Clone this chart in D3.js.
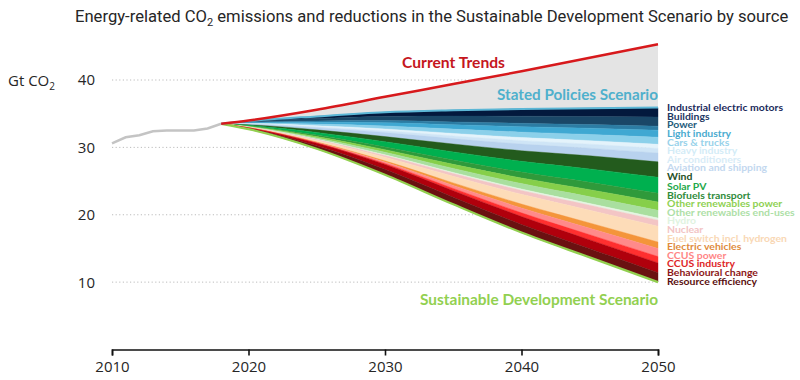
<!DOCTYPE html>
<html><head><meta charset="utf-8">
<script src="https://cdn.jsdelivr.net/npm/d3@7/dist/d3.min.js"></script>
<style>body{margin:0;background:#fff}svg{display:block}</style>
</head><body>
<svg id="c" width="800" height="380"></svg>
<script>
// ---------- data ----------
const histYears  = [2010, 2011, 2012, 2013, 2014, 2015, 2016, 2017, 2018];
const histValues = [30.6, 31.5, 31.8, 32.4, 32.5, 32.5, 32.5, 32.8, 33.5];

const projYears      = [2018, 2020, 2025, 2030, 2035, 2040, 2045, 2050];
const currentTrends  = [33.5, 34.0, 35.6, 37.5, 39.4, 41.3, 43.3, 45.3];
const statedPolicies = [33.5, 33.9, 34.6, 35.2, 35.5, 35.7, 35.8, 35.9];

const wedgeNames = [
  "Industrial electric motors", "Buildings", "Power", "Light industry", "Cars & trucks",
  "Heavy industry", "Air conditioners", "Aviation and shipping",
  "Wind", "Solar PV", "Biofuels transport", "Other renewables power",
  "Other renewables end-uses", "Hydro",
  "Nuclear", "Fuel switch incl. hydrogen", "Electric vehicles", "CCUS power",
  "CCUS industry", "Behavioural change", "Resource efficiency"
];
// reductions (Gt CO2) per wedge, at projYears
const wedgeReductions = [
  [0, 0.08, 0.32, 0.60, 0.85, 1.07, 1.22, 1.40],
  [0, 0.10, 0.36, 0.62, 0.87, 1.06, 1.20, 1.35],
  [0, 0.06, 0.20, 0.32, 0.42, 0.50, 0.54, 0.60],
  [0, 0.07, 0.26, 0.47, 0.65, 0.81, 0.92, 1.05],
  [0, 0.06, 0.24, 0.45, 0.64, 0.80, 0.92, 1.05],
  [0, 0.04, 0.15, 0.27, 0.37, 0.46, 0.52, 0.60],
  [0, 0.04, 0.15, 0.28, 0.40, 0.51, 0.60, 0.70],
  [0, 0.09, 0.32, 0.59, 0.80, 0.99, 1.13, 1.30],
  [0, 0.09, 0.38, 0.75, 1.17, 1.57, 1.95, 2.30],
  [0, 0.10, 0.40, 0.78, 1.20, 1.60, 1.98, 2.35],
  [0, 0.05, 0.21, 0.41, 0.65, 0.88, 1.10, 1.30],
  [0, 0.05, 0.20, 0.38, 0.60, 0.82, 1.04, 1.25],
  [0, 0.05, 0.20, 0.38, 0.60, 0.82, 1.01, 1.15],
  [0, 0.02, 0.06, 0.10, 0.15, 0.20, 0.25, 0.30],
  [0, 0.03, 0.12, 0.25, 0.42, 0.58, 0.74, 0.90],
  [0, 0.05, 0.24, 0.55, 0.98, 1.45, 1.90, 2.35],
  [0, 0.01, 0.06, 0.17, 0.37, 0.58, 0.78, 0.95],
  [0, 0.01, 0.07, 0.22, 0.45, 0.72, 0.97, 1.20],
  [0, 0.01, 0.05, 0.16, 0.34, 0.55, 0.76, 0.95],
  [0, 0.09, 0.38, 0.71, 0.97, 1.17, 1.30, 1.45],
  [0, 0.10, 0.43, 0.80, 1.05, 1.20, 1.30, 1.40]
];
const wedgeFill = [
  "#03193d", "#1a4767", "#2c7ca3", "#3fa8d2", "#8bd0ea", "#e4f3fb", "#cfe5f6", "#b8d2ee",
  "#235b1d", "#00b04f", "#2f9a3b", "#86cf4a", "#a9df9f", "#e5f5e2",
  "#f3c5c5", "#fddcb8", "#f4953a", "#ff8a8a", "#ff2f2f", "#b0000c", "#6a1111"
];
const wedgeLabelColor = [
  "#1b2a5b", "#1e3863", "#245c7b", "#4aabcf", "#98d2ea", "#d3ecf7", "#d8ecf7", "#c3d8ef",
  "#1f4f1f", "#1fa84b", "#2f8b3b", "#8fd153", "#ade0a6", "#e0f3e0",
  "#f2c4c4", "#f9d8b5", "#e08b3c", "#ff8686", "#de2628", "#8c1717", "#5a0f0f"
];
const yTicks = [10, 20, 30, 40];
const xTicks = [2010, 2020, 2030, 2040, 2050];

// ---------- drawing ----------
const svg = d3.select("#c");
const x = d3.scaleLinear().domain([2010, 2050]).range([112, 658]);
const y = d3.scaleLinear().domain([0, 40]).range([349.5, 80]);
const FONT = "'Open Sans', 'DejaVu Sans', sans-serif";
const BOLD = "Lato, 'Open Sans', sans-serif";

// title
const title = svg.append("text").attr("x", 75).attr("y", 22)
  .attr("font-family", "Roboto, 'Open Sans', sans-serif").attr("font-size", 16).attr("fill", "#262626");
title.append("tspan").text("Energy-related CO");
title.append("tspan").text("2").attr("font-size", 11).attr("dy", 4);
title.append("tspan").text(" emissions and reductions in the Sustainable Development Scenario by source").attr("dy", -4);
{
  const w = title.node().getComputedTextLength();
  title.attr("font-size", 16 * 714 / w);
}

// y unit label
const unit = svg.append("text").attr("x", 8).attr("y", 86)
  .attr("font-family", FONT).attr("font-size", 15).attr("fill", "#262626");
unit.append("tspan").text("Gt CO");
unit.append("tspan").text("2").attr("font-size", 10).attr("dy", 4);

// gridlines
svg.append("g").selectAll("line").data(yTicks).join("line")
  .attr("x1", x(2010)).attr("x2", x(2050))
  .attr("y1", d => y(d)).attr("y2", d => y(d))
  .attr("stroke", "#bcbcbc").attr("stroke-width", 1).attr("stroke-dasharray", "1.2,2.4");

// y tick labels
svg.append("g").selectAll("text").data(yTicks).join("text")
  .attr("x", 95).attr("y", d => y(d)).attr("dy", "0.36em")
  .attr("text-anchor", "end").attr("font-family", FONT).attr("font-size", 15)
  .attr("fill", "#262626").text(d => d);

// x axis
const xAxis = svg.append("g").attr("transform", `translate(0,${y(0)})`)
  .call(d3.axisBottom(x).tickValues(xTicks).tickFormat(d3.format("d")).tickSize(6).tickPadding(6));
xAxis.select(".domain").attr("stroke", "#111").attr("stroke-width", 1.6);
xAxis.selectAll(".tick line").attr("stroke", "#111").attr("stroke-width", 1.6);
xAxis.selectAll(".tick text").attr("font-family", FONT).attr("font-size", 15).attr("fill", "#262626");

const curve = d3.curveMonotoneX;
const idx = d3.range(projYears.length);

// grey gap between current trends and stated policies
svg.append("path").datum(idx)
  .attr("d", d3.area().curve(curve).x(i => x(projYears[i]))
    .y0(i => y(statedPolicies[i])).y1(i => y(currentTrends[i])))
  .attr("fill", "#e4e4e4");

// wedges
const cum = idx.map(() => 0);
const bands = wedgeReductions.map((vals, k) => {
  const top = idx.map(i => statedPolicies[i] - cum[i]);
  vals.forEach((v, i) => cum[i] += v);
  const bot = idx.map(i => statedPolicies[i] - cum[i]);
  return { k, top, bot };
});
svg.append("g").selectAll("path").data(bands).join("path")
  .attr("d", b => d3.area().curve(curve).x(i => x(projYears[i]))
    .y0(i => y(b.bot[i])).y1(i => y(b.top[i]))(idx))
  .attr("fill", b => wedgeFill[b.k])
  .attr("stroke", b => wedgeFill[b.k]).attr("stroke-width", 0.4);

const sds = idx.map(i => statedPolicies[i] - cum[i]);

// lines
svg.append("path")
  .attr("d", d3.line().curve(curve).x(i => x(projYears[i])).y(i => y(sds[i]))(idx))
  .attr("fill", "none").attr("stroke", "#92d050").attr("stroke-width", 2.2);
svg.append("path")
  .attr("d", d3.line().curve(curve).x(i => x(projYears[i])).y(i => y(statedPolicies[i]))(idx))
  .attr("fill", "none").attr("stroke", "#5cb7d6").attr("stroke-width", 2);
svg.append("path")
  .attr("d", d3.line().x((d, i) => x(histYears[i])).y(d => y(d))(histValues))
  .attr("fill", "none").attr("stroke", "#c4c4c4").attr("stroke-width", 2.5);
svg.append("path")
  .attr("d", d3.line().curve(curve).x(i => x(projYears[i])).y(i => y(currentTrends[i]))(idx))
  .attr("fill", "none").attr("stroke", "#d7191c").attr("stroke-width", 2.5);

// scenario labels
function fitText(sel, target) {
  sel.attr("textLength", target).attr("lengthAdjust", "spacingAndGlyphs");
}
const ct = svg.append("text").attr("x", 402).attr("y", 68)
  .attr("font-family", BOLD).attr("font-weight", 700).attr("font-size", 15)
  .attr("fill", "#c5161d").text("Current Trends");
fitText(ct, 103);
const sp = svg.append("text").attr("x", 497).attr("y", 100)
  .attr("font-family", BOLD).attr("font-weight", 700).attr("font-size", 15)
  .attr("fill", "#4fb0cc").text("Stated Policies Scenario");
fitText(sp, 161);
const sd = svg.append("text").attr("x", 420).attr("y", 305)
  .attr("font-family", BOLD).attr("font-weight", 700).attr("font-size", 15)
  .attr("fill", "#92d050").text("Sustainable Development Scenario");
fitText(sd, 238);

// wedge labels at 2050, de-overlapped
const last = projYears.length - 1;
const mids = bands.map(b => (y(b.top[last]) + y(b.bot[last])) / 2);
const gap = 8.6;
const pos = mids.slice();
for (let it = 0; it < 300; it++) {
  for (let i = 1; i < pos.length; i++) {
    const d = pos[i] - pos[i - 1];
    if (d < gap) { const m = (gap - d) / 2; pos[i] += m; pos[i - 1] -= m; }
  }
}
const labels = svg.append("g").selectAll("text").data(wedgeNames).join("text")
  .attr("x", 667).attr("y", (d, i) => pos[i] + 2).attr("dy", "0.35em")
  .attr("font-family", BOLD).attr("font-weight", 700).attr("font-size", 10)
  .attr("fill", (d, i) => wedgeLabelColor[i]).text(d => d);
{
  const ref = labels.filter((d, i) => i === 0).node().getComputedTextLength();
  const k = 116 / ref;
  labels.each(function () {
    const w = this.getComputedTextLength();
    d3.select(this).attr("textLength", w * k).attr("lengthAdjust", "spacingAndGlyphs");
  });
}
</script>
</body></html>
